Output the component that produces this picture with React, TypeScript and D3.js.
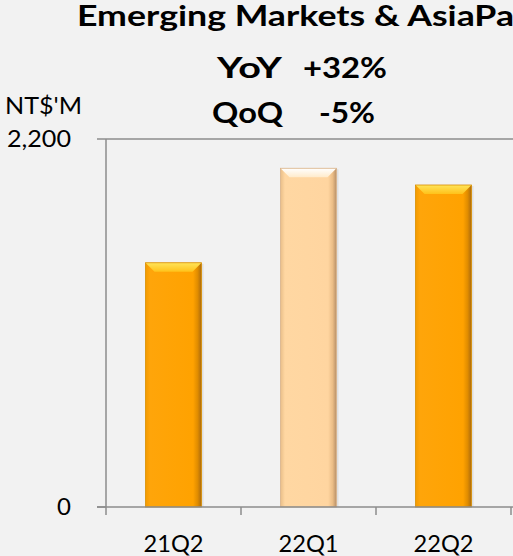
import React, { useLayoutEffect, useRef, useState } from "react";
import * as d3 from "d3";

const categories = ["21Q2", "22Q1", "22Q2"];
const values = [1460, 2025, 1925];
const highlight = [false, true, false];
const yTicks = [0, 2200];
const title = "Emerging Markets & AsiaPacific";
const yoyParts = ["YoY", "+32%"];
const qoqParts = ["QoQ", "-5%"];
const unitLabel = "NT$'M";

const W = 513;
const H = 556;
const FONT = "Lato, 'Open Sans', sans-serif";

export default function App() {
  const titleRef = useRef<SVGTextElement>(null);
  const [titleLen, setTitleLen] = useState<number | undefined>(undefined);

  useLayoutEffect(() => {
    const el = titleRef.current;
    if (!el || titleLen !== undefined) return;
    try {
      const full = el.getComputedTextLength();
      const sub = el.getSubStringLength(0, 25); // "Emerging Markets & AsiaPa"
      if (sub > 0) setTitleLen((full * 437) / sub);
    } catch (e) {
      /* ignore */
    }
  }, [titleLen]);

  const x = d3.scaleBand<string>().domain(categories).range([106, 511]).padding(0);
  const y = d3.scaleLinear().domain([0, 2200]).range([507, 139]);
  const barW = x.bandwidth() * 0.415;
  const fmt = d3.format(",");

  return (
    <svg width={W} height={H} style={{ position: "absolute", left: 0, top: 0, display: "block" }}>
      <defs>
        <linearGradient id="bodyO" x1="0" x2="1" y1="0" y2="0">
          <stop offset="0" stopColor="#F29A00" />
          <stop offset="0.08" stopColor="#FFA50A" />
          <stop offset="0.85" stopColor="#FFA200" />
          <stop offset="0.93" stopColor="#E08C00" />
          <stop offset="1" stopColor="#A86A10" />
        </linearGradient>
        <linearGradient id="topO" x1="0" x2="0" y1="0" y2="1">
          <stop offset="0" stopColor="#FFE45A" />
          <stop offset="1" stopColor="#FFC21A" />
        </linearGradient>
        <linearGradient id="bodyL" x1="0" x2="1" y1="0" y2="0">
          <stop offset="0" stopColor="#E9BE88" />
          <stop offset="0.08" stopColor="#FFD7A2" />
          <stop offset="0.85" stopColor="#FFD5A0" />
          <stop offset="0.93" stopColor="#EBBD86" />
          <stop offset="1" stopColor="#B89068" />
        </linearGradient>
        <linearGradient id="topL" x1="0" x2="0" y1="0" y2="1">
          <stop offset="0" stopColor="#FFFFFF" />
          <stop offset="1" stopColor="#FFEBCB" />
        </linearGradient>
      </defs>
      <rect x={0} y={0} width={W} height={H} fill="#F2F2F2" />

      {/* titles */}
      <text
        ref={titleRef}
        x={77}
        y={26}
        fontFamily={FONT}
        fontWeight={700}
        fontSize={29}
        fill="#000"
        textLength={titleLen}
        lengthAdjust="spacingAndGlyphs"
      >
        {title}
      </text>
      <text x={217} y={78} fontFamily={FONT} fontWeight={700} fontSize={29} fill="#000" textLength={65} lengthAdjust="spacingAndGlyphs">
        {yoyParts[0]}
      </text>
      <text x={303} y={78} fontFamily={FONT} fontWeight={700} fontSize={29} fill="#000" textLength={84} lengthAdjust="spacingAndGlyphs">
        {yoyParts[1]}
      </text>
      <text x={212} y={123} fontFamily={FONT} fontWeight={700} fontSize={29} fill="#000" textLength={71} lengthAdjust="spacingAndGlyphs">
        {qoqParts[0]}
      </text>
      <text x={319} y={123} fontFamily={FONT} fontWeight={700} fontSize={29} fill="#000" textLength={56} lengthAdjust="spacingAndGlyphs">
        {qoqParts[1]}
      </text>
      <text x={5} y={114} fontFamily={FONT} fontSize={24} fill="#000" textLength={77} lengthAdjust="spacingAndGlyphs">
        {unitLabel}
      </text>

      {/* bars */}
      {categories.map((c, i) => {
        const cx = (x(c) as number) + x.bandwidth() / 2;
        const x0 = cx - barW / 2;
        const y0 = y(values[i]);
        const h = y(0) - y0;
        const b = 9;
        const light = highlight[i];
        return (
          <g key={c}>
            <rect x={x0 + 2} y={y0 + 1} width={barW} height={h - 1} fill="#000" opacity={0.08} />
            <rect x={x0} y={y0} width={barW} height={h} fill={light ? "url(#bodyL)" : "url(#bodyO)"} />
            <polygon
              points={`${x0},${y0} ${x0 + barW},${y0} ${x0 + barW - b},${y0 + b} ${x0 + b},${y0 + b}`}
              fill={light ? "url(#topL)" : "url(#topO)"}
            />
            <rect x={x0} y={y0} width={barW} height={h} fill="none" stroke={light ? "#D9B48A" : "#D98E00"} strokeWidth={0.8} />
          </g>
        );
      })}

      {/* axes */}
      <line x1={106} x2={106} y1={y(2200)} y2={y(0)} stroke="#8C8C8C" strokeWidth={1.5} />
      <line x1={97} x2={513} y1={y(0)} y2={y(0)} stroke="#8C8C8C" strokeWidth={1.5} />
      {yTicks.map((t) => (
        <g key={t}>
          <line x1={97} x2={106} y1={y(t)} y2={y(t)} stroke="#8C8C8C" strokeWidth={1.5} />
          {t === 2200 && <line x1={106} x2={513} y1={y(t)} y2={y(t)} stroke="#8C8C8C" strokeWidth={1.5} />}
          <text
            x={71}
            y={y(t) + 8}
            textAnchor="end"
            fontFamily={FONT}
            fontSize={24}
            fill="#000"
            textLength={t === 0 ? undefined : 64}
            lengthAdjust="spacingAndGlyphs"
          >
            {fmt(t)}
          </text>
        </g>
      ))}
      {[...categories.map((c) => x(c) as number), 511].map((tx, i) => (
        <line key={i} x1={tx} x2={tx} y1={y(0)} y2={y(0) + 8} stroke="#8C8C8C" strokeWidth={1.5} />
      ))}
      {categories.map((c) => (
        <text
          key={c}
          x={(x(c) as number) + x.bandwidth() / 2}
          y={552}
          textAnchor="middle"
          fontFamily={FONT}
          fontSize={24}
          fill="#000"
          textLength={60}
          lengthAdjust="spacingAndGlyphs"
        >
          {c}
        </text>
      ))}
    </svg>
  );
}
